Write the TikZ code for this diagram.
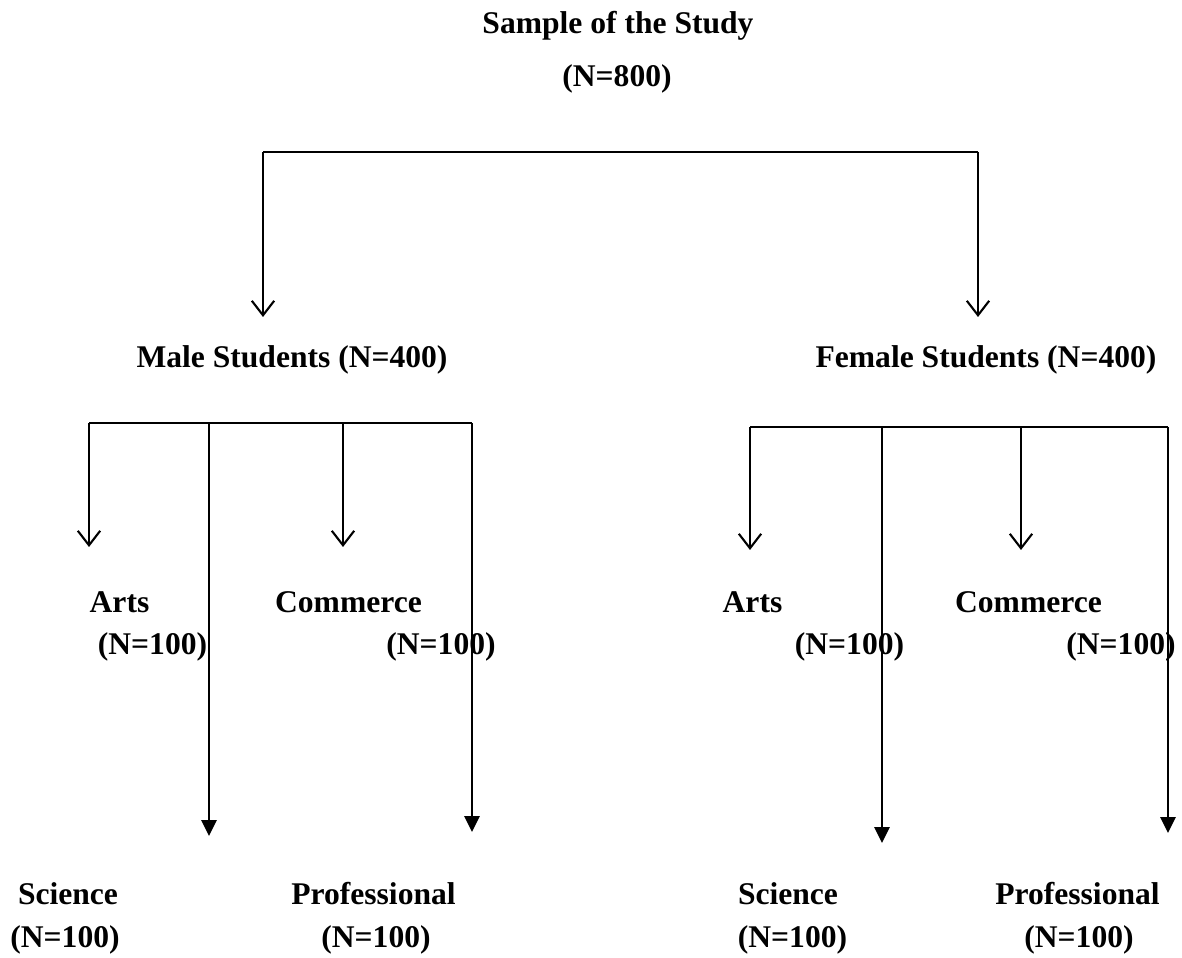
\documentclass[tikz,border=0pt]{standalone}
\usepackage{fontspec}
\setmainfont{Liberation Serif}
\usetikzlibrary{arrows.meta}

\begin{document}
\begin{tikzpicture}[x=0.38pt,y=-0.38pt,line width=0.8pt]
  \tikzstyle{grouptext}=[font=\bfseries\fontsize{12}{14}\selectfont,
    inner sep=0pt,anchor=base]
  \tikzstyle{openhead}=[-{Straight Barb[length=5.5pt,width=8.5pt]}]
  \tikzstyle{fillhead}=[-{Triangle[length=6pt,width=5.7pt]}]
  \useasboundingbox (0,0) rectangle (1182,958);
  % texts
  \node[grouptext] (sample) at (618,34) {Sample of the Study};
  \node[grouptext] (sampleN) at (617,87) {(N=800)};
  \node[grouptext] (male) at (292,368) {Male Students (N=400)};
  \node[grouptext] (female) at (986,368) {Female Students (N=400)};
  \node[grouptext] (mArts) at (119.5,613) {Arts};
  \node[grouptext] (mArtsN) at (152.5,655) {(N=100)};
  \node[grouptext] (mComm) at (348.5,613) {Commerce};
  \node[grouptext] (mCommN) at (441,655) {(N=100)};
  \node[grouptext] (mSci) at (68,905) {Science};
  \node[grouptext] (mSciN) at (65,948) {(N=100)};
  \node[grouptext] (mProf) at (373.5,905) {Professional};
  \node[grouptext] (mProfN) at (376,948) {(N=100)};
  \node[grouptext] (fArts) at (752.5,613) {Arts};
  \node[grouptext] (fArtsN) at (849.5,655) {(N=100)};
  \node[grouptext] (fComm) at (1028.5,613) {Commerce};
  \node[grouptext] (fCommN) at (1121,655) {(N=100)};
  \node[grouptext] (fSci) at (788,905) {Science};
  \node[grouptext] (fSciN) at (792.5,948) {(N=100)};
  \node[grouptext] (fProf) at (1077.5,905) {Professional};
  \node[grouptext] (fProfN) at (1079,948) {(N=100)};
  % top split
  \coordinate (topL) at (263,152);
  \coordinate (topR) at (978,152);
  \coordinate (maleTip) at (263,317);
  \coordinate (femaleTip) at (978,317);
  \draw (topL)--(topR);
  \draw[openhead] (topL)--(maleTip);
  \draw[openhead] (topR)--(femaleTip);
  % male split
  \coordinate (mA) at (89,423);
  \coordinate (mS) at (209,423);
  \coordinate (mC) at (343,423);
  \coordinate (mP) at (472,423);
  \draw (mA)--(mP);
  \draw[openhead] (mA)--(89,547);
  \draw[fillhead] (mS)--(209,836);
  \draw[openhead] (mC)--(343,547);
  \draw[fillhead] (mP)--(472,832);
  % female split
  \coordinate (fA) at (750,427);
  \coordinate (fS) at (882,427);
  \coordinate (fC) at (1021,427);
  \coordinate (fP) at (1168,427);
  \draw (fA)--(fP);
  \draw[openhead] (fA)--(750,550);
  \draw[fillhead] (fS)--(882,843);
  \draw[openhead] (fC)--(1021,550);
  \draw[fillhead] (fP)--(1168,833);
\end{tikzpicture}
\end{document}
